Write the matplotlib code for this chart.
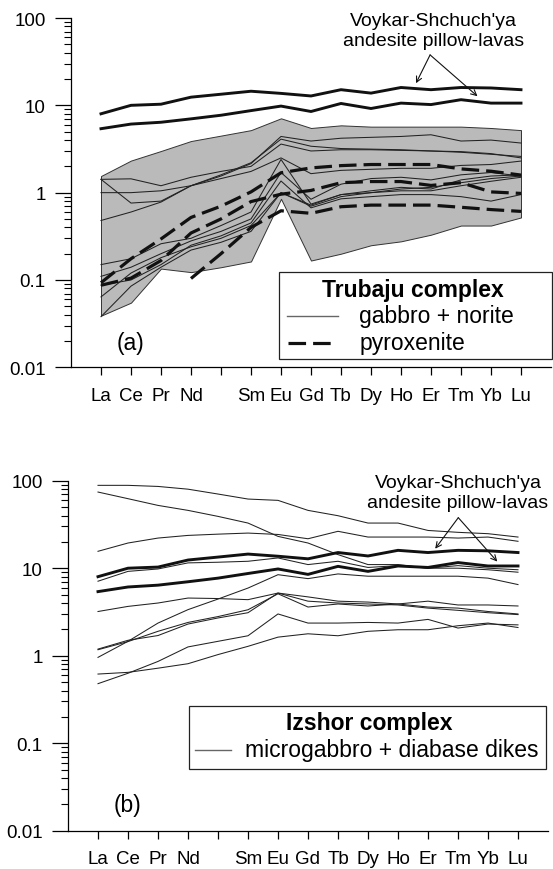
import matplotlib.pyplot as plt
import numpy as np
from matplotlib.patches import Rectangle
from matplotlib.ticker import LogLocator, NullFormatter, FixedLocator

plt.rcParams['font.family'] = ['Liberation Sans', 'DejaVu Sans']

# REE order, Pm has no label
elements = ['La', 'Ce', 'Pr', 'Nd', '', 'Sm', 'Eu', 'Gd', 'Tb', 'Dy', 'Ho', 'Er', 'Tm', 'Yb', 'Lu']

# Voykar-Shchuch'ya andesite pillow-lavas (both panels)
andesite_hi = [8.0, 10.0, 10.3, 12.4, 13.4, 14.5, 13.7, 12.8, 15.1, 13.8, 16.0, 15.1, 16.0, 15.8, 15.1]
andesite_lo = [5.4, 6.1, 6.4, 7.0, 7.7, 8.7, 9.8, 8.5, 10.5, 9.2, 10.6, 10.2, 11.6, 10.6, 10.6]

# Trubaju complex: shaded field of gabbro + norite
field_top = [1.55, 2.33, 3.0, 3.9, 4.5, 5.2, 7.1, 5.5, 5.9, 5.7, 5.7, 5.7, 5.7, 5.5, 5.2]
field_bot = [0.039, 0.055, 0.135, 0.123, 0.14, 0.163, 0.85, 0.167, 0.2, 0.25, 0.277, 0.33, 0.42, 0.42, 0.52]

gabbro = [
    [1.42, 1.44, 1.2, 1.5, 1.75, 2.0, 3.6, 3.0, 3.1, 3.1, 3.05, 3.0, 2.9, 2.75, 2.6],
    [1.42, 0.76, 0.8, 1.2, 1.55, 2.15, 4.4, 3.9, 4.2, 4.3, 4.4, 4.6, 3.9, 4.0, 3.7],
    [1.0, 1.0, 1.05, 1.2, 1.45, 1.75, 2.5, 1.65, 1.8, 1.85, 1.9, 1.9, 2.05, 2.1, 2.3],
    [0.48, 0.6, 0.78, 1.2, 1.6, 2.2, 4.1, 3.4, 3.2, 3.15, 3.1, 3.0, 2.95, 2.8, 2.5],
    [0.15, 0.175, 0.26, 0.3, 0.42, 0.6, 2.4, 0.74, 0.95, 1.05, 1.15, 1.1, 1.4, 1.55, 1.6],
    [0.11, 0.14, 0.2, 0.28, 0.36, 0.5, 1.7, 0.84, 1.25, 1.45, 1.5, 1.4, 1.6, 1.7, 1.55],
    [0.087, 0.1, 0.15, 0.25, 0.32, 0.45, 1.36, 0.67, 0.85, 0.9, 0.95, 0.95, 0.9, 0.8, 0.95],
    [0.064, 0.12, 0.18, 0.24, 0.3, 0.42, 1.0, 0.7, 0.9, 1.0, 1.1, 1.15, 1.3, 1.45, 1.55],
    [0.038, 0.085, 0.14, 0.22, 0.27, 0.36, 1.0, 0.72, 0.95, 1.0, 1.05, 1.05, 1.2, 1.35, 1.5],
]

# pyroxenite (dashed); None = not analysed
pyroxenite = [
    [0.093, 0.175, 0.295, 0.52, 0.7, 1.02, 1.69, 1.92, 2.04, 2.1, 2.1, 2.1, 1.87, 1.76, 1.59],
    [0.087, 0.105, 0.167, 0.345, 0.5, 0.79, 0.96, 1.06, 1.3, 1.34, 1.34, 1.21, 1.3, 1.02, 0.98],
    [None, None, None, 0.104, 0.2, 0.4, 0.62, 0.58, 0.69, 0.72, 0.72, 0.72, 0.68, 0.64, 0.61],
]

# Izshor complex: microgabbro + diabase dikes
izshor = [
    [88.5, 88.5, 86, 80, 70.4, 61.7, 59.6, 45.8, 39.8, 32.8, 32.8, 27, 25.7, 24.8, 22.7],
    [74.2, 62.3, 52.2, 45.8, 39.1, 32.8, 23.1, 19.4, 14.3, 11.0, 11.0, 10.0, 10.0, 9.6, 9.0],
    [15.6, 19.4, 22.1, 23.7, 24.5, 25.2, 24.3, 21.7, 26.4, 22.7, 22.7, 22.7, 22.1, 22.7, 20.3],
    [7.1, 9.2, 9.8, 11.5, 11.7, 12.0, 13.1, 11.0, 12.0, 10.2, 10.7, 10.0, 10.7, 10.0, 9.6],
    [3.2, 3.66, 4.0, 4.56, 4.5, 4.37, 5.2, 4.7, 4.2, 4.1, 3.9, 3.6, 3.5, 3.2, 3.0],
    [0.957, 1.46, 2.36, 3.36, 4.44, 5.93, 8.43, 7.6, 8.6, 8.1, 8.1, 8.1, 8.1, 7.7, 6.5],
    [1.19, 1.5, 1.7, 2.3, 2.7, 3.1, 5.2, 4.2, 4.0, 3.9, 3.8, 3.5, 3.3, 3.1, 2.95],
    [1.17, 1.45, 1.9, 2.4, 2.8, 3.35, 5.1, 3.6, 3.9, 3.7, 3.9, 4.2, 3.8, 3.8, 3.7],
    [0.617, 0.645, 0.72, 0.81, 1.03, 1.28, 1.63, 1.78, 1.69, 1.9, 1.98, 1.98, 2.2, 2.36, 2.1],
    [0.479, 0.63, 0.86, 1.26, 1.46, 1.69, 3.0, 2.36, 2.36, 2.4, 2.36, 2.6, 2.07, 2.3, 2.25],
]

x = np.arange(len(elements))
W, H = 553, 870
LEG = 16.5
DASH = (5.5, 2.2)


def style_axes(ax):
    ax.set_yscale('log')
    ax.set_ylim(0.01, 100)
    ax.set_xlim(-1, 15)
    for s in ['top', 'right']:
        ax.spines[s].set_visible(False)
    for s in ['left', 'bottom']:
        ax.spines[s].set_linewidth(0.9)
    ax.xaxis.set_major_locator(FixedLocator(x))
    ax.set_xticklabels(elements, fontsize=13.5)
    ax.yaxis.set_minor_locator(LogLocator(base=10, subs=np.arange(2, 10), numticks=20))
    ax.yaxis.set_minor_formatter(NullFormatter())
    ax.set_yticks([0.01, 0.1, 1, 10, 100])
    ax.set_yticklabels(['0.01', '0.1', '1', '10', '100'], fontsize=13.5)
    ax.tick_params(axis='y', which='major', length=11.3, width=0.9, pad=7)
    ax.tick_params(axis='y', which='minor', length=5.2, width=0.8)
    ax.tick_params(axis='x', which='major', length=5.5, width=0.9, pad=8.5)


def andesite(ax, cx, apex, tips):
    ax.plot(x, andesite_hi, color='#111111', lw=2.1, solid_joinstyle='round')
    ax.plot(x, andesite_lo, color='#111111', lw=2.1, solid_joinstyle='round')
    for t in tips:
        ax.annotate('', xy=t, xytext=apex,
                    arrowprops=dict(arrowstyle='->', color='#111111', lw=0.8,
                                    shrinkA=0, shrinkB=0))
    ax.text(cx, 0.981, "Voykar-Shchuch'ya", transform=ax.transAxes,
            ha='center', va='baseline', fontsize=14)
    ax.text(cx, 0.924, "andesite pillow-lavas", transform=ax.transAxes,
            ha='center', va='baseline', fontsize=14)


fig = plt.figure(figsize=(W / 100, H / 100), dpi=100)

# ---- panel (a)
ax = fig.add_axes([71 / W, 1 - 368.3 / H, 480 / W, 349.3 / H])
style_axes(ax)
ax.fill_between(x, field_bot, field_top, facecolor='#bababa', edgecolor='#333333', lw=0.7)
for g in gabbro:
    ax.plot(x, g, color='#222222', lw=0.75)
for p in pyroxenite:
    ax.plot(x, np.array(p, dtype=float), color='#111111', lw=2.3, dashes=DASH)
andesite(ax, 0.755, (10.97, 37.8), [(10.5, 17.9), (12.55, 12.7)])
ax.text(0.123, 0.072, '(a)', transform=ax.transAxes, ha='center', va='center', fontsize=16.5)
ax.add_patch(Rectangle((0.434, 0.024), 0.568, 0.25, transform=ax.transAxes, facecolor='white',
                       edgecolor='#222222', lw=0.9, clip_on=False, zorder=5))
ax.text(0.713, 0.204, 'Trubaju complex', transform=ax.transAxes, ha='center', va='baseline',
        fontsize=LEG, fontweight='bold', zorder=6)
ax.plot([0.449, 0.557], [0.147, 0.147], transform=ax.transAxes, color='#666666', lw=1,
        clip_on=False, zorder=6)
ax.text(0.6, 0.13, 'gabbro + norite', transform=ax.transAxes, ha='left', va='baseline',
        fontsize=LEG, zorder=6)
ax.plot([0.452, 0.545], [0.07, 0.07], transform=ax.transAxes, color='#111111', lw=2.3,
        dashes=DASH, clip_on=False, zorder=6)
ax.text(0.602, 0.053, 'pyroxenite', transform=ax.transAxes, ha='left', va='baseline',
        fontsize=LEG, zorder=6)

# ---- panel (b)
ax = fig.add_axes([68 / W, 1 - 831.7 / H, 480 / W, 350 / H])
style_axes(ax)
for g in izshor:
    ax.plot(x, g, color='#222222', lw=0.75)
andesite(ax, 0.8125, (12.01, 37.8), [(11.24, 16.7), (13.31, 11.9)])
ax.text(0.123, 0.075, '(b)', transform=ax.transAxes, ha='center', va='center', fontsize=16.5)
ax.add_patch(Rectangle((0.252, 0.175), 0.743, 0.182, transform=ax.transAxes, facecolor='white',
                       edgecolor='#222222', lw=0.9, clip_on=False, zorder=5))
ax.text(0.627, 0.29, 'Izshor complex', transform=ax.transAxes, ha='center', va='baseline',
        fontsize=LEG, fontweight='bold', zorder=6)
ax.plot([0.265, 0.340], [0.232, 0.232], transform=ax.transAxes, color='#666666', lw=1,
        clip_on=False, zorder=6)
ax.text(0.369, 0.214, 'microgabbro + diabase dikes', transform=ax.transAxes, ha='left',
        va='baseline', fontsize=LEG, zorder=6)

fig.savefig('out.png', dpi=100)
